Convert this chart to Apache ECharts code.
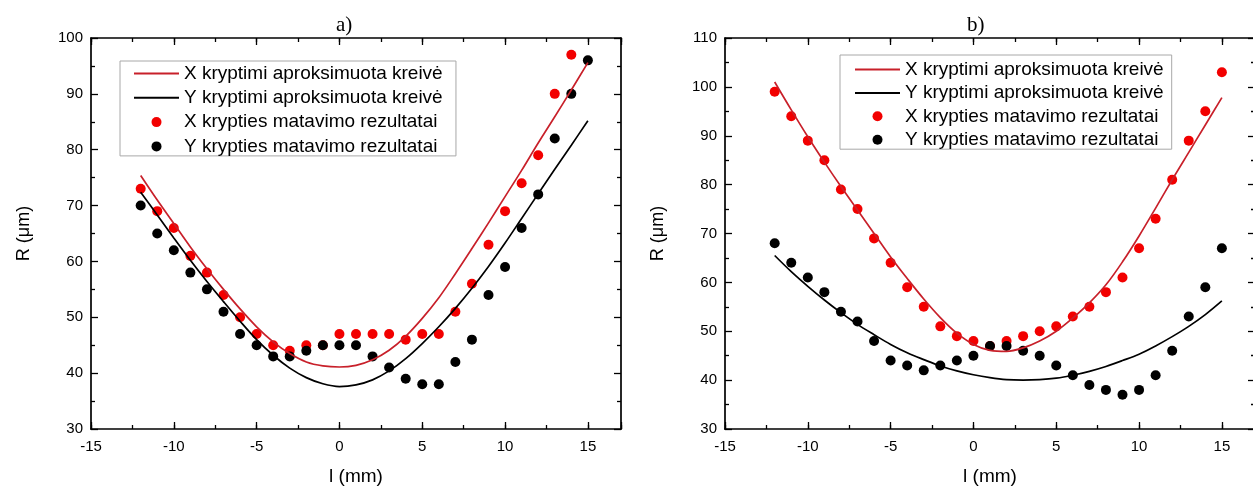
<!DOCTYPE html>
<html>
<head>
<meta charset="utf-8">
<script src="https://cdn.jsdelivr.net/npm/echarts@6/dist/echarts.min.js"></script>
<style>
html,body{margin:0;padding:0;background:#fff;}
#chart{width:1253px;height:486px;}
</style>
</head>
<body>
<div id="chart"></div>
<script>
// ---- data ----
var positions = [-12,-11,-10,-9,-8,-7,-6,-5,-4,-3,-2,-1,0,1,2,3,4,5,6,7,8,9,10,11,12,13,14,15];

// a) panel
var aFitX = [75.4,71.0,66.8,62.6,58.7,55.0,51.5,48.3,45.6,43.5,42.0,41.3,41.1,41.4,42.4,44.1,46.6,49.8,53.5,57.8,62.3,66.9,71.6,76.3,81.2,85.9,90.7,95.6];
var aFitY = [72.4,68.3,64.2,60.2,56.4,52.8,49.3,46.0,43.2,40.9,39.2,38.1,37.6,37.9,38.8,40.4,42.6,45.3,48.3,51.6,55.2,59.1,63.3,67.7,72.1,76.5,80.8,85.2];
var aMeasX = [73,69,66,61,58,54,50,47,45,44,45,45,47,47,47,47,46,47,47,51,56,63,69,74,79,90,97];
var aMeasY = [70,65,62,58,55,51,47,45,43,43,44,45,45,45,43,41,39,38,38,42,46,54,59,66,72,82,90,96];

// b) panel
var bFitX = [101,95.3,89.8,84.6,79.6,74.8,70.0,65.2,60.8,56.6,52.8,49.6,47.3,46.1,45.9,46.6,48.0,50.0,52.7,55.8,59.5,64.2,69.5,75.2,81.0,86.6,92.2,97.8];
var bFitY = [65.5,62.2,59.2,56.4,53.8,51.4,49.3,47.3,45.6,44.2,42.9,41.9,41.1,40.5,40.1,40.0,40.1,40.4,41.0,41.8,42.8,44.0,45.3,47.0,48.9,51.0,53.4,56.2];
var bMeasX = [99,94,89,85,79,75,69,64,59,55,51,49,48,47,48,49,50,51,53,55,58,61,67,73,81,89,95,103];
var bMeasY = [68,64,61,58,54,52,48,44,43,42,43,44,45,47,47,46,45,43,41,39,38,37,38,41,46,53,59,67];

var xTicksMajor = [-15,-10,-5,0,5,10,15];
var panelTitles = ['a)', 'b)'];
var legendNames = ['X kryptimi aproksimuota kreivė','Y kryptimi aproksimuota kreivė','X krypties matavimo rezultatai','Y krypties matavimo rezultatai'];
var yMaxes = [100, 110];

function pairs(vals){ return vals.map(function(v,i){ return [positions[i], v]; }); }

var FONT = '"Liberation Sans", Arial, sans-serif';
var SERIF = '"Liberation Serif", "Times New Roman", serif';
var RED_LINE = '#c8202a', RED_DOT = '#f20000', BLACK = '#000';
var grids = [
  {left: 91, top: 38, width: 530, height: 391, containLabel:false, outerBoundsMode:'none'},
  {left: 725, top: 38, width: 530, height: 391, containLabel:false, outerBoundsMode:'none'}
];

var xAxes = [], yAxes = [], series = [], legends = [], titles = [];
var frameLine = {show:true, onZero:false, lineStyle:{color:'#000', width:1.7}};
var noLine = {show:false, onZero:false};
var tickStyle = {color:'#000', width:1.3};
[0,1].forEach(function(g){
  var base = xAxes.length;
  xAxes.push({
    gridIndex:g, type:'value', min:-15, max:17, interval:5, position:'bottom',
    axisLine: frameLine,
    axisTick:{show:true, inside:true, length:7, lineStyle:tickStyle},
    axisLabel:{show:true, color:'#000', fontSize:15, fontFamily:FONT, margin:10,
      formatter:function(v){ return xTicksMajor.indexOf(v) >= 0 ? String(v) : ''; }},
    splitLine:{show:false},
    name:'l (mm)', nameLocation:'middle', nameGap:38,
    nameTextStyle:{color:'#000', fontSize:19, fontFamily:FONT}
  });
  xAxes.push({
    gridIndex:g, type:'value', min:-15, max:17, interval:2.5, position:'bottom',
    axisLine: noLine,
    axisTick:{show:true, inside:true, length:4, lineStyle:tickStyle},
    axisLabel:{show:false}, splitLine:{show:false}
  });
  xAxes.push({
    gridIndex:g, type:'value', min:-15, max:17, interval:5, position:'top',
    axisLine: frameLine,
    axisTick:{show:true, inside:true, length:7, lineStyle:tickStyle},
    axisLabel:{show:false}, splitLine:{show:false}
  });
  xAxes.push({
    gridIndex:g, type:'value', min:-15, max:17, interval:2.5, position:'top',
    axisLine: noLine,
    axisTick:{show:true, inside:true, length:4, lineStyle:tickStyle},
    axisLabel:{show:false}, splitLine:{show:false}
  });
  var ybase = yAxes.length;
  yAxes.push({
    gridIndex:g, type:'value', min:30, max:yMaxes[g], interval:10, position:'left',
    axisLine: frameLine,
    axisTick:{show:true, inside:true, length:7, lineStyle:tickStyle},
    minorTick:{show:true, splitNumber:2, length:4, lineStyle:tickStyle},
    axisLabel:{show:true, color:'#000', fontSize:15, fontFamily:FONT, margin:8},
    splitLine:{show:false}, minorSplitLine:{show:false},
    name:'R (\u03bcm)', nameLocation:'middle', nameGap:58, nameRotate:90,
    nameTextStyle:{color:'#000', fontSize:18, fontFamily:FONT}
  });
  yAxes.push({
    gridIndex:g, type:'value', min:30, max:yMaxes[g], interval:10, position:'right',
    axisLine: frameLine,
    axisTick:{show:true, inside:true, length:7, lineStyle:tickStyle},
    minorTick:{show:true, splitNumber:2, length:4, lineStyle:tickStyle},
    axisLabel:{show:false}, splitLine:{show:false}, minorSplitLine:{show:false}
  });
  var fitX = g===0 ? aFitX : bFitX, fitY = g===0 ? aFitY : bFitY;
  var measX = g===0 ? aMeasX : bMeasX, measY = g===0 ? aMeasY : bMeasY;
  var suffix = g===0 ? ' ' : '';
  var names = legendNames.map(function(n){ return n + suffix; });
  series.push({type:'line', name:names[0], xAxisIndex:base, yAxisIndex:ybase, data:pairs(fitX),
    smooth:0.35, symbol:'none', lineStyle:{color:RED_LINE, width:1.7}, itemStyle:{color:RED_LINE}, silent:true, animation:false});
  series.push({type:'line', name:names[1], xAxisIndex:base, yAxisIndex:ybase, data:pairs(fitY),
    smooth:0.35, symbol:'none', lineStyle:{color:BLACK, width:1.7}, itemStyle:{color:BLACK}, silent:true, animation:false});
  series.push({type:'scatter', name:names[2], xAxisIndex:base, yAxisIndex:ybase, data:pairs(measX),
    symbol:'circle', symbolSize:10, itemStyle:{color:RED_DOT, opacity:1}, silent:true, animation:false});
  series.push({type:'scatter', name:names[3], xAxisIndex:base, yAxisIndex:ybase, data:pairs(measY),
    symbol:'circle', symbolSize:10, itemStyle:{color:BLACK, opacity:1}, silent:true, animation:false});
  legends.push({
    data: [
      {name:names[0], itemStyle:{opacity:0}},
      {name:names[1], itemStyle:{opacity:0}},
      {name:names[2]},
      {name:names[3]}
    ],
    orient:'vertical',
    left: g===0 ? 120 : 840, top: g===0 ? 61 : 55,
    itemWidth:45, itemHeight:10, itemGap: g===0 ? 5.3 : 4.4,
    padding: g===0 ? [3,8,0,13] : [5,8,0,14],
    borderColor:'#a8a8a8', borderWidth:1, backgroundColor:'#fff',
    selectedMode:false,
    textStyle:{color:'#000', fontSize:19, fontFamily:FONT, lineHeight:19}
  });
  titles.push({
    text: panelTitles[g], left: g===0 ? 336 : 967, top: 15, padding:0,
    textStyle:{color:'#000', fontSize:21, fontWeight:'normal', fontFamily:SERIF}
  });
});

var chart = echarts.init(document.getElementById('chart'), null, {renderer:'canvas'});
chart.setOption({
  animation:false,
  backgroundColor:'#fff',
  title: titles,
  grid: grids,
  xAxis: xAxes,
  yAxis: yAxes,
  legend: legends,
  series: series
});
</script>
</body>
</html>
